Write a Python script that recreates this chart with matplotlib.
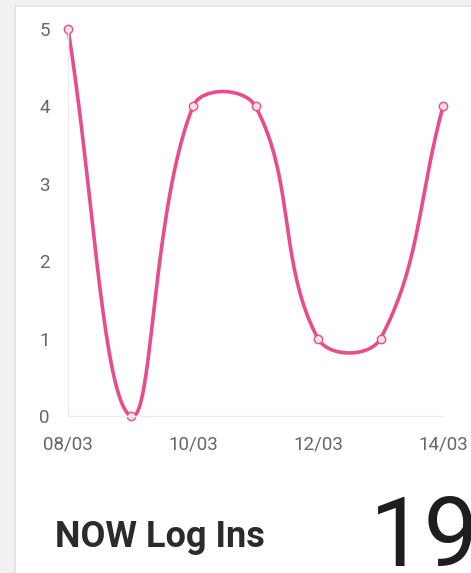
import numpy as np
import matplotlib
matplotlib.use("Agg")
from matplotlib import pyplot as plt
from matplotlib.patches import Rectangle

days = ["08/03", "09/03", "10/03", "11/03", "12/03", "13/03", "14/03"]
logins = [5, 0, 4, 4, 1, 1, 4]
shown_labels = ["08/03", "10/03", "12/03", "14/03"]
title = "NOW Log Ins"
total = "19"

PINK = "#e84d8a"
W, H = 471, 573


def spline(xs, ys, sx, sy, tension=0.4, n=40):
    # bezier spline like chart.js, control points worked out in pixel space
    p = np.column_stack([np.asarray(xs, float) * sx, np.asarray(ys, float) * sy])
    k = len(p)
    cin, cout = [], []
    for i in range(k):
        prev = p[max(i - 1, 0)]
        nxt = p[min(i + 1, k - 1)]
        d01 = np.hypot(*(p[i] - prev))
        d12 = np.hypot(*(nxt - p[i]))
        tot = d01 + d12
        s01 = d01 / tot if tot else 0
        s12 = d12 / tot if tot else 0
        cin.append(p[i] - tension * s01 * (nxt - prev))
        cout.append(p[i] + tension * s12 * (nxt - prev))
    t = np.linspace(0, 1, n)[:, None]
    out = []
    for i in range(k - 1):
        a, b, c, d = p[i], cout[i], cin[i + 1], p[i + 1]
        seg = (1 - t) ** 3 * a + 3 * (1 - t) ** 2 * t * b + 3 * (1 - t) * t ** 2 * c + t ** 3 * d
        out.append(seg if i == 0 else seg[1:])
    out = np.vstack(out)
    return out[:, 0] / sx, out[:, 1] / sy


def main():
    plt.rcParams['font.family'] = ['Roboto', 'DejaVu Sans']
    fig = plt.figure(figsize=(W / 100, H / 100), dpi=100)
    fig.patch.set_facecolor("#f1f1f1")

    # white card behind everything
    bg = fig.add_axes([0, 0, 1, 1], zorder=-5)
    bg.set_axis_off()
    bg.set_xlim(0, W)
    bg.set_ylim(H, 0)
    bg.add_patch(Rectangle((15, 6), W, H, facecolor="white", edgecolor="#e2e2e2", lw=1.2))

    x0, x1, y0, y1 = 68, 443, 29, 416
    ax = fig.add_axes([x0 / W, 1 - y1 / H, (x1 - x0) / W, (y1 - y0) / H])
    ax.set_facecolor("none")

    xs = np.arange(len(days))
    sx = (x1 - x0) / (len(days) - 1)
    sy = (y1 - y0) / 5
    cx, cy = spline(xs, logins, sx, sy)
    cy = np.clip(cy, 0, 5)
    ax.plot(cx, cy, color=PINK, lw=2.6, clip_on=False, solid_capstyle="round")
    ax.plot(xs, logins, "o", ms=6, mfc="#fbe0ea", mec=PINK, mew=1.0, clip_on=False)

    ax.set_xlim(0, len(days) - 1)
    ax.set_ylim(0, 5)
    ax.set_xticks([days.index(d) for d in shown_labels])
    ax.set_xticklabels(shown_labels)
    ax.set_yticks(range(6))
    for s in ["top", "right"]:
        ax.spines[s].set_visible(False)
    for s in ["left", "bottom"]:
        ax.spines[s].set_color("#ececec")
        ax.spines[s].set_linewidth(1)
    ax.tick_params(length=0, colors="#666666", labelsize=13.5)
    ax.tick_params(axis="y", pad=13)
    ax.tick_params(axis="x", pad=14)

    fig.text(55 / W, 1 - 537 / H, title, fontsize=26, fontweight="bold",
             color="#2b2b2b", va="center", ha="left")
    fig.text(370 / W, 1 - 540 / H, total, fontsize=70, fontweight="normal",
             color="#1e1e1e", va="center", ha="left")

    fig.savefig("out.png", dpi=100, facecolor=fig.get_facecolor())


if __name__ == "__main__":
    main()
